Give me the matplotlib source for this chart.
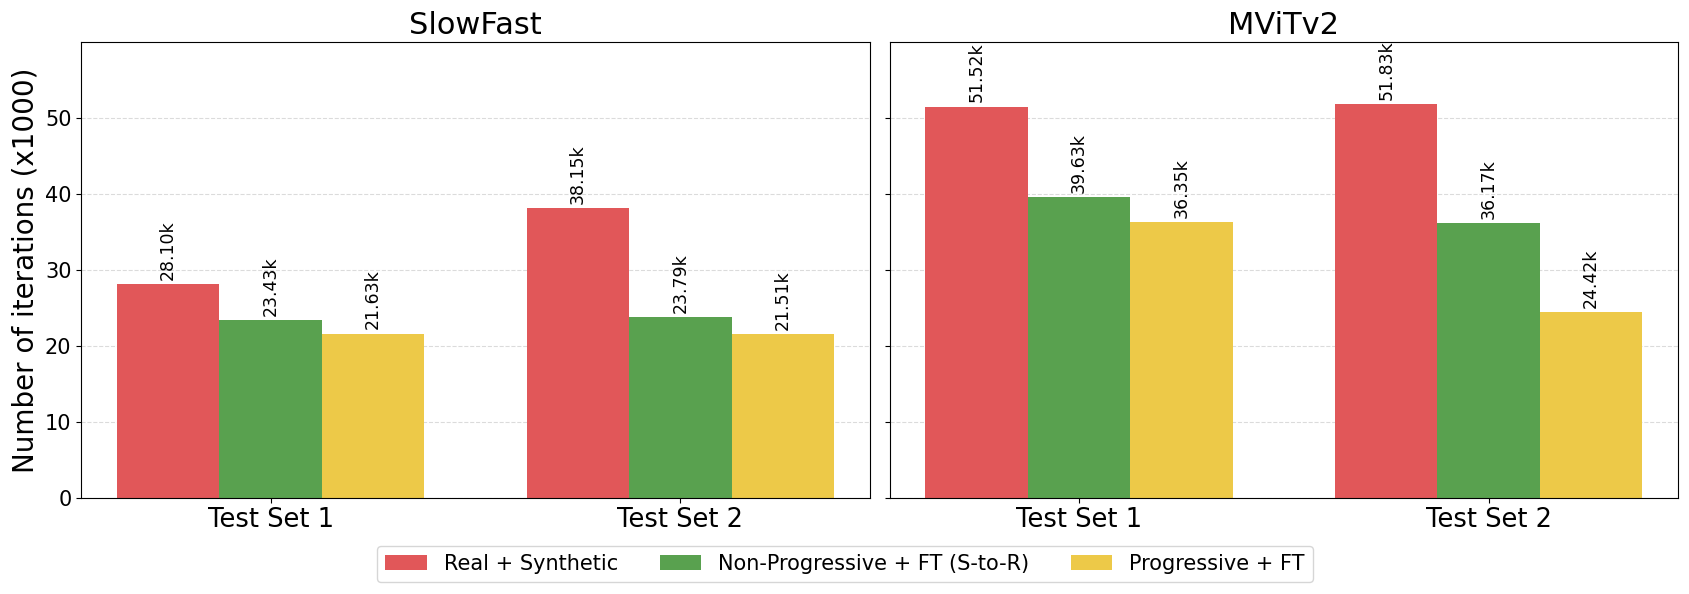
import numpy as np
import matplotlib.pyplot as plt

# Data (iterations in thousands)
test_sets = ["Test Set 1", "Test Set 2"]
models = ["SlowFast", "MViTv2"]
methods = ["Real + Synthetic", "Non-Progressive + FT (S-to-R)", "Progressive + FT"]
colors = ["#E15759", "#59A14F", "#EDC948"]

slowfast_vals = [
    [28.10, 38.15],   # Real + Synthetic
    [23.43, 23.79],   # Non-Progressive + FT (S-to-R)
    [21.63, 21.51],   # Progressive + FT
]
mvitv2_vals = [
    [51.52, 51.83],
    [39.63, 36.17],
    [36.35, 24.42],
]

fig, axes = plt.subplots(1, 2, figsize=(16.9, 5.94), dpi=100, sharey=True)
fig.subplots_adjust(left=0.048, right=0.993, top=0.929, bottom=0.162, wspace=0.025)

x = np.arange(len(test_sets))
width = 0.25

for ax, title, vals in zip(axes, models, [slowfast_vals, mvitv2_vals]):
    for i, (method, color) in enumerate(zip(methods, colors)):
        bars = ax.bar(x + (i - 1) * width, vals[i], width, label=method, color=color)
        for b, v in zip(bars, vals[i]):
            ax.annotate(f"{v:.2f}k", (b.get_x() + b.get_width() / 2, b.get_height()),
                        xytext=(0, 3), textcoords="offset points",
                        ha="center", va="bottom", rotation=90, fontsize=12.5)
    ax.set_title(title, fontsize=22)
    ax.set_xticks(x)
    ax.set_xticklabels(test_sets, fontsize=18.5)
    ax.tick_params(axis="y", labelsize=15)
    ax.set_ylim(0, 60)
    ax.set_yticks([0, 10, 20, 30, 40, 50])
    ax.grid(axis="y", linestyle="--", color="lightgray", alpha=0.8)
    ax.set_axisbelow(True)

axes[0].set_ylabel("Number of iterations (x1000)", fontsize=20)

handles, labels = axes[0].get_legend_handles_labels()
fig.legend(handles, labels, loc="lower center", ncol=3, fontsize=15,
           bbox_to_anchor=(0.5, 0.002), handlelength=2.0, handletextpad=0.8,
           columnspacing=2.0)

plt.savefig("out.png")
